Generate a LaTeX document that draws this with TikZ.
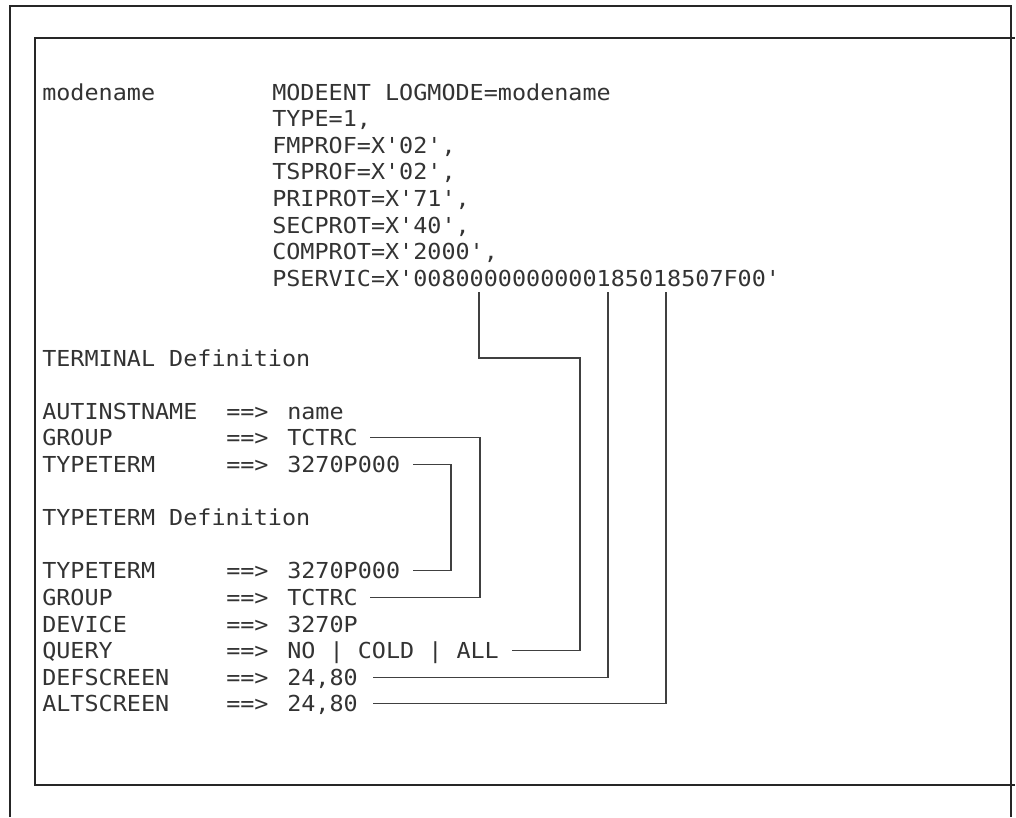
\documentclass[tikz,border=0pt]{standalone}
\usepackage{fontspec}
\setmonofont[FakeStretch=1.065]{DejaVu Sans Mono}
\usetikzlibrary{calc}
\begin{document}
\begin{tikzpicture}[x=0.75pt,y=-0.75pt,
  txt/.style={anchor=base west, inner sep=0pt, font=\ttfamily\fontsize{16.5pt}{20pt}\selectfont, text=black!80},
  conn/.style={draw=black!75, line width=0.8pt},
  framepath/.style={draw=black!85, line width=1.1pt}]
\useasboundingbox (0,0) rectangle (1016,817);
% frames
\draw[framepath] (10,817) -- (10,6) -- (1011,6) -- (1011,817);
\draw[framepath] (1015,38) -- (35,38) -- (35,785) -- (1015,785);
% upper block
\node[txt] (m0) at (42,100) {modename};
\node[txt] (r0) at (272,100) {MODEENT LOGMODE=modename};
\node[txt] (r1) at (272,126.6) {TYPE=1,};
\node[txt] (r2) at (272,153.2) {FMPROF=X'02',};
\node[txt] (r3) at (272,179.8) {TSPROF=X'02',};
\node[txt] (r4) at (272,206.4) {PRIPROT=X'71',};
\node[txt] (r5) at (272,233) {SECPROT=X'40',};
\node[txt] (r6) at (272,259.6) {COMPROT=X'2000',};
\node[txt] (r7) at (272,286.2) {PSERVIC=X'0080000000000185018507F00'};
% TERMINAL definition
\node[txt] (td) at (42,366) {TERMINAL Definition};
\node[txt] (l12) at (42,419.2) {AUTINSTNAME};
\node[txt] (a12) at (226,419.2) {==>};
\node[txt] (v12) at (287,419.2) {name};
\node[txt] (l13) at (42,445.8) {GROUP};
\node[txt] (a13) at (226,445.8) {==>};
\node[txt] (v13) at (287,445.8) {TCTRC};
\node[txt] (l14) at (42,472.4) {TYPETERM};
\node[txt] (a14) at (226,472.4) {==>};
\node[txt] (v14) at (287,472.4) {3270P000};
% TYPETERM definition
\node[txt] (tt) at (42,525.6) {TYPETERM Definition};
\node[txt] (l18) at (42,578.8) {TYPETERM};
\node[txt] (a18) at (226,578.8) {==>};
\node[txt] (v18) at (287,578.8) {3270P000};
\node[txt] (l19) at (42,605.4) {GROUP};
\node[txt] (a19) at (226,605.4) {==>};
\node[txt] (v19) at (287,605.4) {TCTRC};
\node[txt] (l20) at (42,632) {DEVICE};
\node[txt] (a20) at (226,632) {==>};
\node[txt] (v20) at (287,632) {3270P};
\node[txt] (l21) at (42,658.6) {QUERY};
\node[txt] (a21) at (226,658.6) {==>};
\node[txt] (v21) at (287,658.6) {NO | COLD | ALL};
\node[txt] (l22) at (42,685.2) {DEFSCREEN};
\node[txt] (a22) at (226,685.2) {==>};
\node[txt] (v22) at (287,685.2) {24,80};
\node[txt] (l23) at (42,711.8) {ALTSCREEN};
\node[txt] (a23) at (226,711.8) {==>};
\node[txt] (v23) at (287,711.8) {24,80};
% connector points
\coordinate (p1) at (479,292);
\coordinate (p2) at (608,292);
\coordinate (p3) at (666,292);
\coordinate (k1) at (580,358);
\coordinate (k4) at (480,500);
\coordinate (k5) at (451,520);
% connectors
\draw[conn] (p1) |- (k1) |- ($(v21.base east)+(13,-8)$);
\draw[conn] (p2) |- ($(v22.base east)+(15,-8)$);
\draw[conn] (p3) |- ($(v23.base east)+(15,-8)$);
\draw[conn] ($(v13.base east)+(12,-8)$) -| (k4) |- ($(v19.base east)+(12,-8)$);
\draw[conn] ($(v14.base east)+(13,-8)$) -| (k5) |- ($(v18.base east)+(13,-8)$);
\end{tikzpicture}
\end{document}
